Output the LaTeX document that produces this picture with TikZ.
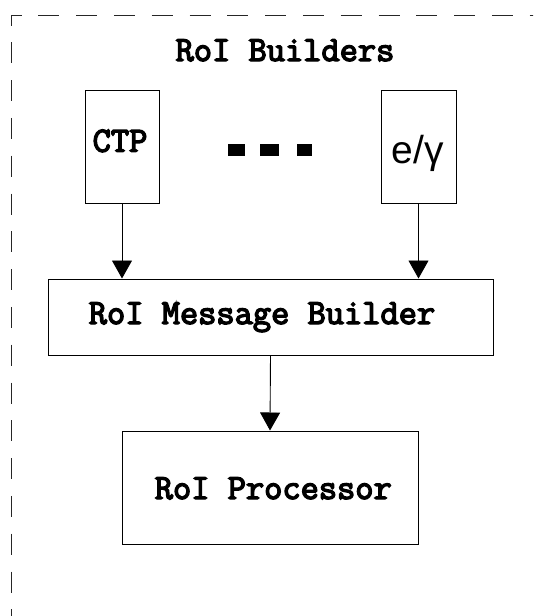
\documentclass[tikz,border=0pt]{standalone}
\usepackage{fontspec}
\newfontfamily\labelsans{Liberation Sans}
\newfontfamily\heavymono[FakeBold=4]{Latin Modern Mono}
\usetikzlibrary{arrows.meta}

\begin{document}
\begin{tikzpicture}[x=1pt, y=-1pt,
  block/.style={draw=black, line width=1pt, fill=none, inner sep=0pt, rectangle},
  monolabel/.style={inner sep=0pt, anchor=base, font=\fontsize{35.4}{35.4}\selectfont\heavymono},
  flow/.style={line width=0.9pt, -{Triangle[width=20pt,length=18pt]}},
  frameline/.style={line width=0.9pt, draw=black!85, dash pattern=on 21pt off 16.8pt, dash phase=10.5pt}
]
\useasboundingbox (0,0) rectangle (533,616);
\clip (0,0) rectangle (533,616);

% enclosing dashed frame (only the top-left part lies inside the page)
\coordinate (fc) at (11,15);
\coordinate (fb) at (11,660);
\coordinate (fr) at (580,15);
\draw[frameline] (fc) -- (fb);
\draw[frameline] (fc) -- (fr);

\node[monolabel] (title) at (285,61) {RoI Builders};

% RoI builder boxes
\node[block, minimum width=74pt, minimum height=113pt] (ctp) at (122,146.5) {};
\node[block, minimum width=75pt, minimum height=113pt] (egam) at (418.5,146.5) {};
\node[monolabel] (ctptext) at (120,151.7) {CTP};
\node[inner sep=0pt, anchor=base, font=\fontsize{39}{39}\selectfont\labelsans] (egamtext) at (418,163) {e/γ};

% ellipsis between the builders
\fill (228,144) rectangle (245,156);
\fill (260,144) rectangle (279,156);
\fill (297,144) rectangle (312,156);

% message builder and processor
\node[block, minimum width=445pt, minimum height=76pt] (mb) at (270.5,317) {};
\node[monolabel] (mbtext) at (262,324) {RoI Message Builder};
\node[block, minimum width=296pt, minimum height=113pt] (proc) at (270,487.5) {};
\node[monolabel] (proctext) at (273.3,499) {RoI Processor};

% data flow
\draw[flow] (ctp.south) -- (ctp.south |- mb.north);
\draw[flow] (egam.south) -- (egam.south |- mb.north);
\draw[flow] (mb.south) -- (proc.north);
\end{tikzpicture}
\end{document}
